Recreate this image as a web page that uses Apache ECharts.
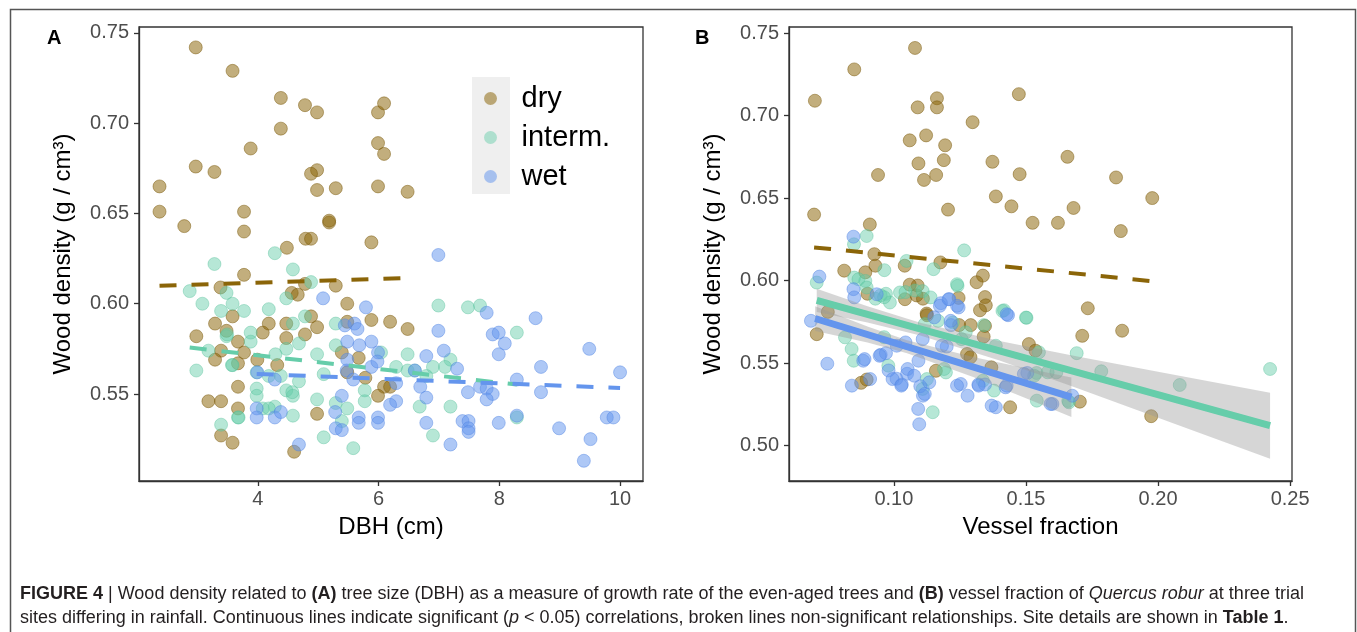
<!DOCTYPE html>
<html>
<head>
<meta charset="utf-8">
<script src="https://cdn.jsdelivr.net/npm/echarts@6/dist/echarts.min.js"></script>
<style>
  html, body { margin: 0; padding: 0; background: #fff; }
  #chart { width: 1357px; height: 632px; }
</style>
</head>
<body>
<div id="chart"></div>
<script>
// panel A: DBH (cm) vs wood density
var dbhDry = [
  [2.97,0.742],[3.58,0.729],[4.38,0.714],[4.78,0.710],[4.98,0.706],[5.99,0.706],[6.09,0.711],
  [4.38,0.697],[3.88,0.686],[5.99,0.689],[6.09,0.683],[2.97,0.676],[3.28,0.673],[4.98,0.674],
  [4.88,0.672],[2.37,0.665],[4.98,0.663],[5.29,0.664],[5.99,0.665],[6.48,0.662],[2.37,0.651],
  [3.77,0.651],[2.78,0.643],[3.77,0.640],[5.18,0.645],[5.18,0.646],[4.79,0.636],[4.88,0.636],
  [5.88,0.634],[4.48,0.631],[3.77,0.616],[3.38,0.609],[5.29,0.610],[4.56,0.606],[4.66,0.605],
  [4.78,0.611],[5.48,0.600],[3.29,0.589],[3.58,0.593],[2.98,0.582],[3.48,0.585],[3.67,0.579],
  [4.08,0.584],[4.18,0.589],[4.47,0.589],[4.47,0.581],[4.78,0.583],[4.98,0.587],[4.88,0.593],
  [5.48,0.590],[5.88,0.591],[6.19,0.590],[6.48,0.586],[3.39,0.574],[3.77,0.573],[5.39,0.573],
  [5.67,0.570],[3.99,0.569],[3.67,0.567],[4.32,0.566],[3.29,0.569],[5.48,0.562],[5.78,0.559],
  [6.09,0.554],[6.19,0.554],[5.99,0.549],[3.67,0.554],[3.18,0.546],[3.39,0.546],[3.67,0.542],
  [4.98,0.539],[3.39,0.527],[3.58,0.523],[4.60,0.518]
];
var dbhInterm = [
  [2.87,0.607],[3.08,0.600],[3.48,0.606],[3.58,0.600],[3.39,0.596],[3.77,0.596],[4.18,0.597],
  [4.47,0.603],[4.78,0.593],[4.58,0.589],[5.29,0.589],[6.99,0.599],[7.48,0.598],[7.68,0.599],
  [8.29,0.584],[3.88,0.584],[3.48,0.582],[3.18,0.574],[3.88,0.579],[4.47,0.575],[4.68,0.578],
  [5.29,0.577],[4.98,0.572],[6.04,0.573],[6.48,0.572],[4.29,0.572],[2.98,0.563],[3.58,0.566],
  [3.98,0.562],[4.18,0.560],[4.38,0.560],[4.68,0.557],[5.09,0.561],[6.29,0.565],[6.48,0.563],
  [6.60,0.563],[6.90,0.565],[7.19,0.569],[7.10,0.565],[6.79,0.560],[3.98,0.553],[3.98,0.549],
  [4.47,0.552],[4.58,0.549],[4.08,0.542],[4.28,0.543],[4.18,0.542],[4.98,0.547],[5.29,0.545],
  [5.48,0.542],[5.77,0.552],[5.77,0.546],[6.68,0.543],[7.19,0.543],[3.39,0.533],[3.67,0.537],
  [4.58,0.538],[5.39,0.535],[8.29,0.537],[5.09,0.526],[5.58,0.520],[6.90,0.527],[4.28,0.628],
  [3.28,0.622],[4.58,0.619],[4.88,0.612],[3.49,0.583],[3.57,0.566],[3.68,0.537],[4.57,0.551]
];
var dbhWet = [
  [5.08,0.603],[5.79,0.598],[6.99,0.627],[7.79,0.595],[8.60,0.592],[5.44,0.588],[5.60,0.589],
  [5.65,0.586],[6.99,0.585],[7.89,0.583],[7.99,0.584],[8.09,0.578],[7.99,0.572],[5.48,0.579],
  [5.68,0.577],[5.88,0.579],[5.99,0.573],[7.08,0.574],[9.49,0.575],[6.79,0.571],[10.0,0.562],
  [8.69,0.565],[7.30,0.564],[6.60,0.563],[3.99,0.562],[4.28,0.558],[5.48,0.569],[5.47,0.563],
  [5.58,0.558],[5.88,0.565],[5.98,0.568],[6.29,0.556],[6.69,0.554],[7.68,0.554],[7.79,0.553],
  [7.48,0.551],[7.89,0.550],[8.29,0.558],[8.69,0.551],[6.79,0.548],[7.79,0.547],[6.29,0.546],
  [6.19,0.544],[5.39,0.549],[5.28,0.540],[3.98,0.542],[3.98,0.537],[4.28,0.537],[4.38,0.540],
  [5.67,0.537],[5.67,0.534],[5.99,0.537],[5.99,0.534],[5.29,0.531],[5.39,0.530],[6.79,0.534],
  [7.39,0.535],[7.49,0.535],[7.49,0.531],[7.49,0.529],[7.99,0.534],[8.29,0.538],[8.99,0.531],
  [9.78,0.537],[9.89,0.537],[9.51,0.525],[9.40,0.513],[7.19,0.522],[4.68,0.522]
];

// panel B: vessel fraction vs wood density
var vfDry = [
  [0.108,0.741],[0.085,0.728],[0.0701,0.709],[0.1473,0.713],[0.1163,0.7105],[0.1163,0.705],
  [0.109,0.705],[0.1298,0.696],[0.1122,0.688],[0.106,0.685],[0.1194,0.682],[0.1189,0.673],
  [0.1093,0.671],[0.1373,0.672],[0.1657,0.675],[0.094,0.664],[0.1114,0.661],[0.116,0.664],
  [0.1476,0.6645],[0.1841,0.6625],[0.1386,0.651],[0.1978,0.650],[0.1445,0.645],[0.168,0.644],
  [0.1205,0.643],[0.0698,0.640],[0.1525,0.635],[0.1621,0.635],[0.1859,0.630],[0.0909,0.634],
  [0.0926,0.616],[0.0812,0.606],[0.0892,0.605],[0.093,0.609],[0.1041,0.609],[0.1176,0.611],
  [0.1337,0.603],[0.1313,0.599],[0.1345,0.590],[0.1348,0.585],[0.1326,0.582],[0.090,0.592],
  [0.1042,0.5887],[0.1086,0.591],[0.111,0.589],[0.1124,0.580],[0.075,0.581],[0.0708,0.5675],
  [0.0897,0.540],[0.0876,0.538],[0.1125,0.579],[0.1291,0.573],[0.1247,0.573],[0.1511,0.5615],
  [0.1536,0.5575],[0.1277,0.5555],[0.129,0.5535],[0.1159,0.5453],[0.1369,0.5474],[0.144,0.5232],
  [0.1734,0.5832],[0.1713,0.5665],[0.1864,0.5696],[0.1974,0.5178],[0.1704,0.5266],[0.134,0.566],
  [0.1345,0.5725],[0.109,0.597],[0.106,0.5975],[0.1245,0.5895]
];
var vfInterm = [
  [0.0897,0.627],[0.0849,0.622],[0.1266,0.6183],[0.0964,0.6063],[0.0708,0.5988],[0.085,0.6018],
  [0.0866,0.6008],[0.0892,0.5998],[0.1048,0.6119],[0.115,0.6069],[0.1241,0.5968],[0.108,0.594],
  [0.093,0.589],[0.095,0.591],[0.097,0.592],[0.0985,0.5867],[0.1023,0.5928],[0.1417,0.582],
  [0.1502,0.5774],[0.1341,0.573],[0.1386,0.5605],[0.1549,0.5565],[0.1197,0.5443],[0.154,0.544],
  [0.1379,0.5333],[0.1541,0.5272],[0.1147,0.5202],[0.1692,0.556],[0.1785,0.545],[0.2082,0.5367],
  [0.2424,0.5464],[0.166,0.527],[0.0979,0.5484],[0.0815,0.5656],[0.084,0.5585],[0.0848,0.5514],
  [0.0963,0.5657],[0.1125,0.5403],[0.1109,0.5343],[0.119,0.5464],[0.1256,0.5645],[0.1272,0.5686],
  [0.1337,0.5393],[0.1531,0.5423],[0.1582,0.5444],[0.1615,0.5444],[0.1663,0.5262],[0.1167,0.5756],
  [0.1117,0.5736],[0.1223,0.5746],[0.0897,0.5958],[0.0963,0.5899],[0.1044,0.593],[0.1109,0.5936],
  [0.1139,0.5898],[0.1239,0.5978],[0.1411,0.5816],[0.15,0.5776]
];
var vfWet = [
  [0.0847,0.6266],[0.0718,0.6024],[0.0847,0.5948],[0.085,0.5898],[0.0935,0.5917],[0.0686,0.5756],
  [0.0748,0.5496],[0.0884,0.5514],[0.0841,0.5363],[0.091,0.5403],[0.095,0.555],[0.097,0.556],
  [0.098,0.5455],[0.101,0.5405],[0.103,0.537],[0.105,0.5435],[0.1092,0.5222],[0.111,0.5302],
  [0.121,0.5887],[0.1178,0.5863],[0.1245,0.5837],[0.1432,0.579],[0.1153,0.5777],[0.1216,0.573],
  [0.120,0.560],[0.1505,0.544],[0.1253,0.5373],[0.1279,0.5302],[0.132,0.537],[0.1345,0.537],
  [0.1423,0.5353],[0.1386,0.5232],[0.160,0.5252],[0.110,0.536],[0.1096,0.5129],[0.1675,0.5302],
  [0.0889,0.5524],[0.0946,0.5544],[0.0995,0.5403],[0.1028,0.5363],[0.1052,0.5464],[0.1077,0.5423],
  [0.1093,0.5514],[0.1117,0.5313],[0.1134,0.5383],[0.1174,0.5847],[0.1239,0.5847],[0.1207,0.5887],
  [0.1215,0.5756],[0.1182,0.5605],[0.1239,0.5363],[0.1321,0.5363],[0.137,0.5242],[0.1427,0.5796],
  [0.1427,0.5363],[0.1492,0.5434],[0.1593,0.5252],[0.1044,0.5625],[0.1109,0.5645],[0.1011,0.5605]
];

// fitted lines and confidence bands
var fitDryA = [[2.37,0.6100],[6.48,0.6143]];
var fitIntermA = [[2.87,0.5757],[8.29,0.5552]];
var fitWetA = [[3.98,0.5611],[10.0,0.5533]];
var fitDryB = [[0.0698,0.6201],[0.1978,0.5996]];
var fitIntermB = [[0.0708,0.588],[0.2424,0.512]];
var fitWetB = [[0.0702,0.577],[0.1672,0.5293]];
var bandIntermB = [[0.0708,0.581,0.595],[0.09,0.5746,0.5844],[0.11,0.5667,0.5745],[0.14,0.5515,0.5633],
  [0.17,0.5344,0.5538],[0.20,0.5169,0.5447],[0.2424,0.492,0.532]];
var bandWetB = [[0.0702,0.5695,0.5845],[0.09,0.5625,0.5721],[0.105,0.556,0.5638],[0.13,0.5416,0.5536],
  [0.15,0.5287,0.5469],[0.1672,0.5173,0.5413]];

var dbhTicks = [4, 6, 8, 10];
var vfTicks = [0.10, 0.15, 0.20, 0.25];
var densTicksA = [0.55, 0.60, 0.65, 0.70, 0.75];
var densTicksB = [0.50, 0.55, 0.60, 0.65, 0.70, 0.75];
var sites = ['dry', 'interm.', 'wet'];

// fill, outline, line colour per site
var siteColor = {
  'dry': ['rgba(139,101,8,0.66)', 'rgba(120,86,6,0.75)', '#8b6508'],
  'interm.': ['rgba(102,205,170,0.6)', 'rgba(80,190,150,0.6)', '#66cdaa'],
  'wet': ['rgba(100,149,237,0.65)', 'rgba(80,130,225,0.7)', '#6495ed']
};

var font = 'Liberation Sans, Arial, sans-serif';
var ec = echarts.init(document.getElementById('chart'));

function xAxisOf(grid, min, max, ticks, name, fmt) {
  return {
    gridIndex: grid, type: 'value', min: min, max: max,
    name: name, nameLocation: 'middle', nameGap: 34,
    nameTextStyle: { fontSize: 24, color: '#000', fontFamily: font },
    axisLine: { show: true, lineStyle: { color: '#333', width: 1.3 } },
    axisTick: { show: true, length: 5, customValues: ticks, lineStyle: { color: '#333', width: 1.3 } },
    axisLabel: { customValues: ticks, formatter: fmt, fontSize: 20, color: '#4d4d4d', margin: 8, fontFamily: font },
    splitLine: { show: false }
  };
}
function yAxisOf(grid, min, max, ticks) {
  return {
    gridIndex: grid, type: 'value', min: min, max: max,
    name: 'Wood density (g / cm³)', nameLocation: 'middle', nameGap: 64,
    nameTextStyle: { fontSize: 24, color: '#000', fontFamily: font },
    axisLine: { show: true, lineStyle: { color: '#333', width: 1.3 } },
    axisTick: { show: true, length: 5, customValues: ticks, lineStyle: { color: '#333', width: 1.3 } },
    axisLabel: { customValues: ticks, formatter: function (v) { return v.toFixed(2); },
      fontSize: 20, color: '#4d4d4d', margin: 10, fontFamily: font },
    splitLine: { show: false }
  };
}

function points(name, data, axis) {
  return {
    name: name, type: 'scatter', xAxisIndex: axis, yAxisIndex: axis,
    data: data, symbolSize: 13, z: 2,
    itemStyle: { color: siteColor[name][0], borderColor: siteColor[name][1], borderWidth: 0.8 }
  };
}
function fitLine(id, site, data, axis, dashed) {
  return {
    name: id, type: 'line', xAxisIndex: axis, yAxisIndex: axis,
    data: data, symbol: 'none', z: 4, silent: true,
    lineStyle: dashed ? { color: siteColor[site][2], width: 4, type: [17, 15] }
                      : { color: siteColor[site][2], width: 7 }
  };
}
function band(id, rows, axis) {
  return {
    name: id, type: 'custom', xAxisIndex: axis, yAxisIndex: axis, z: 3, silent: true,
    data: rows, encode: { x: 0, y: [1, 2] },
    renderItem: function (params, api) {
      if (params.dataIndex !== 0) return;
      var lower = rows.map(function (r) { return api.coord([r[0], r[1]]); });
      var upper = rows.map(function (r) { return api.coord([r[0], r[2]]); }).reverse();
      return { type: 'polygon', shape: { points: lower.concat(upper) },
        style: { fill: 'rgba(153,153,153,0.4)' } };
    }
  };
}

var capStyle = { fontSize: 18, color: '#231f20', lineHeight: 24 };

ec.setOption({
  animation: false,
  textStyle: { fontFamily: font },
  title: [
    { text: 'A', left: 47, top: 28, padding: 0, textStyle: { fontSize: 20, fontWeight: 'bold', color: '#000' } },
    { text: 'B', left: 695, top: 28, padding: 0, textStyle: { fontSize: 20, fontWeight: 'bold', color: '#000' } },
    { left: 20, top: 582, padding: 0,
      text: '{b|FIGURE 4} | Wood density related to {b|(A)} tree size (DBH) as a measure of growth rate of the even-aged trees and {b|(B)} vessel fraction of {i|Quercus robur} at three trial\n' +
            'sites differing in rainfall. Continuous lines indicate significant ({i|p} < 0.05) correlations, broken lines non-significant relationships. Site details are shown in {b|Table 1}.',
      textStyle: { fontSize: 18, fontWeight: 'normal', color: '#231f20', lineHeight: 24,
        rich: {
          b: Object.assign({ fontWeight: 'bold' }, capStyle),
          i: Object.assign({ fontStyle: 'italic' }, capStyle)
        } } }
  ],
  legend: {
    data: sites, orient: 'vertical', left: 479, top: 79,
    itemWidth: 38, itemHeight: 13, itemGap: 10, icon: 'circle',
    itemStyle: { borderWidth: 0 },
    textStyle: { fontSize: 29, color: '#000', padding: [0, 0, 0, 7] },
    selectedMode: false
  },
  graphic: [
    { type: 'rect', left: 8, top: 7, shape: { width: 1345, height: 700 },
      style: { fill: 'none', stroke: '#555', lineWidth: 1.5 }, silent: true },
    { type: 'rect', left: 472, top: 77, shape: { width: 38, height: 117 },
      style: { fill: '#efefef' }, z: -1, silent: true }
  ],
  grid: [
    { left: 139, top: 27, width: 504, height: 454, show: true, borderColor: '#333', borderWidth: 1.3, backgroundColor: 'transparent' },
    { left: 789, top: 27, width: 503, height: 454, show: true, borderColor: '#333', borderWidth: 1.3, backgroundColor: 'transparent' }
  ],
  xAxis: [
    xAxisOf(0, 2.03, 10.38, dbhTicks, 'DBH (cm)', function (v) { return String(v); }),
    xAxisOf(1, 0.0603, 0.2507, vfTicks, 'Vessel fraction', function (v) { return v.toFixed(2); })
  ],
  yAxis: [
    yAxisOf(0, 0.5018, 0.7533, densTicksA),
    yAxisOf(1, 0.4785, 0.7537, densTicksB)
  ],
  series: [
    points('dry', dbhDry, 0),
    points('interm.', dbhInterm, 0),
    points('wet', dbhWet, 0),
    fitLine('fitDryA', 'dry', fitDryA, 0, true),
    fitLine('fitIntermA', 'interm.', fitIntermA, 0, true),
    fitLine('fitWetA', 'wet', fitWetA, 0, true),
    points('dry', vfDry, 1),
    points('interm.', vfInterm, 1),
    points('wet', vfWet, 1),
    band('bandIntermB', bandIntermB, 1),
    band('bandWetB', bandWetB, 1),
    fitLine('fitDryB', 'dry', fitDryB, 1, true),
    fitLine('fitIntermB', 'interm.', fitIntermB, 1, false),
    fitLine('fitWetB', 'wet', fitWetB, 1, false)
  ]
});
</script>
</body>
</html>
